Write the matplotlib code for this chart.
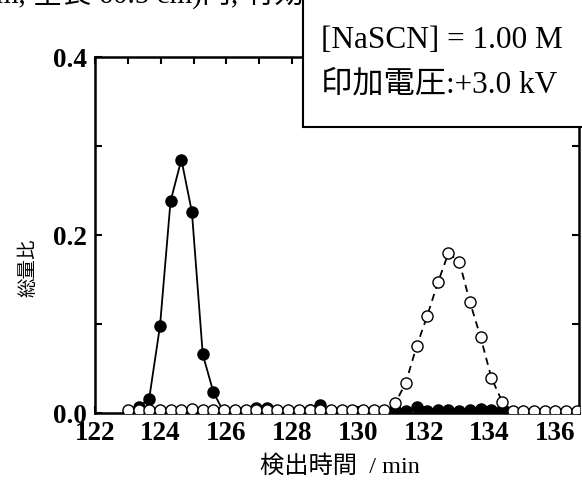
import matplotlib
matplotlib.use("Agg")
import matplotlib.pyplot as plt
from matplotlib.patches import Rectangle
from matplotlib.ticker import MultipleLocator

# fraction times (min)
times = [123.00, 123.33, 123.65, 123.98, 124.30, 124.63, 124.95, 125.28, 125.60,
         125.93, 126.25, 126.58, 126.90, 127.23, 127.55, 127.88, 128.20, 128.53,
         128.85, 129.18, 129.50, 129.83, 130.15, 130.48, 130.80, 131.13, 131.45,
         131.78, 132.10, 132.43, 132.75, 133.08, 133.40, 133.73, 134.05, 134.38,
         134.70, 135.03, 135.35, 135.68, 136.00, 136.33, 136.65]

# filled circles (solid line)
filled = [0.000, 0.007, 0.016, 0.098, 0.238, 0.285, 0.226, 0.066, 0.024,
          0.000, 0.000, 0.002, 0.006, 0.006, 0.002, 0.002, 0.002, 0.003,
          0.009, 0.002, 0.001, 0.001, 0.001, 0.001, 0.001, 0.003, 0.002,
          0.007, 0.002, 0.003, 0.003, 0.002, 0.003, 0.005, 0.003, 0.004,
          0.000, 0.000, 0.000, 0.000, 0.000, 0.000, 0.000]

# open circles (dashed line)
opened = [0.004, 0.003, 0.003, 0.003, 0.003, 0.003, 0.005, 0.003, 0.003,
          0.004, 0.003, 0.003, 0.003, 0.003, 0.003, 0.003, 0.003, 0.003,
          0.003, 0.003, 0.003, 0.003, 0.003, 0.003, 0.003, 0.011, 0.034,
          0.075, 0.109, 0.147, 0.180, 0.170, 0.125, 0.085, 0.040, 0.013,
          0.002, 0.002, 0.002, 0.002, 0.002, 0.002, 0.002]

x_ticks = [122, 124, 126, 128, 130, 132, 134, 136]
y_ticks = [0.0, 0.2, 0.4]

serif_jp = ['Liberation Serif', 'Noto Sans CJK JP']

fig = plt.figure(figsize=(5.82, 4.93), dpi=100)
ax = fig.add_axes([0.163, 0.162, 0.832, 0.722])

ax.plot(times, opened, linestyle=(0, (4, 3)), color='black', lw=1.3,
        marker='o', markersize=8, markerfacecolor='white',
        markeredgecolor='black', markeredgewidth=1.0, zorder=3)
ax.plot(times, filled, linestyle='-', color='black', lw=1.3,
        marker='o', markersize=8, markerfacecolor='black',
        markeredgecolor='black', zorder=2)

ax.set_xlim(122, 136.72)
ax.set_ylim(0, 0.4)
ax.set_xticks(x_ticks)
ax.set_yticks(y_ticks)
ax.set_xticklabels([str(t) for t in x_ticks])
ax.set_yticklabels(['%.1f' % v for v in y_ticks])
ax.xaxis.set_minor_locator(MultipleLocator(1))
ax.yaxis.set_minor_locator(MultipleLocator(0.1))
ax.tick_params(which='both', direction='in', top=True, right=True,
               width=1.5, length=5)
ax.tick_params(axis='x', pad=6)
ax.tick_params(axis='y', pad=6)
for lab in ax.get_xticklabels() + ax.get_yticklabels():
    lab.set_fontfamily('Liberation Serif')
    lab.set_fontweight('bold')
    lab.set_fontsize(19.5)
for sp in ax.spines.values():
    sp.set_linewidth(1.8)

fig.text(340 / 582, 1 - 467 / 493, '検出時間  / min', family=serif_jp,
         fontsize=17.5, ha='center', va='center')
fig.text(28 / 582, 1 - 268 / 493, '総量比', family=serif_jp,
         fontsize=14, ha='center', va='center', rotation=90)

# condition box (runs off the top right corner)
box = Rectangle((303 / 582, 1 - 127 / 493), 0.5, 0.3, transform=fig.transFigure,
                facecolor='white', edgecolor='black', lw=1.5, zorder=10,
                clip_on=False)
fig.patches.append(box)
fig.text(321 / 582, 1 - 40 / 493, '[NaSCN] = 1.00 M', family=serif_jp,
         fontsize=22.5, ha='left', va='center', zorder=11)
fig.text(321 / 582, 1 - 85 / 493, '印加電圧:+3.0 kV', family=serif_jp,
         fontsize=22.5, ha='left', va='center', zorder=11)

# cut-off line of the surrounding document
fig.text(-4 / 582, 1.012, 'm, 全長 60.5 cm)内, 有効泳長を見要し、相互', family=serif_jp,
         fontsize=21, ha='left', va='center')

fig.savefig('out.png', dpi=100)
